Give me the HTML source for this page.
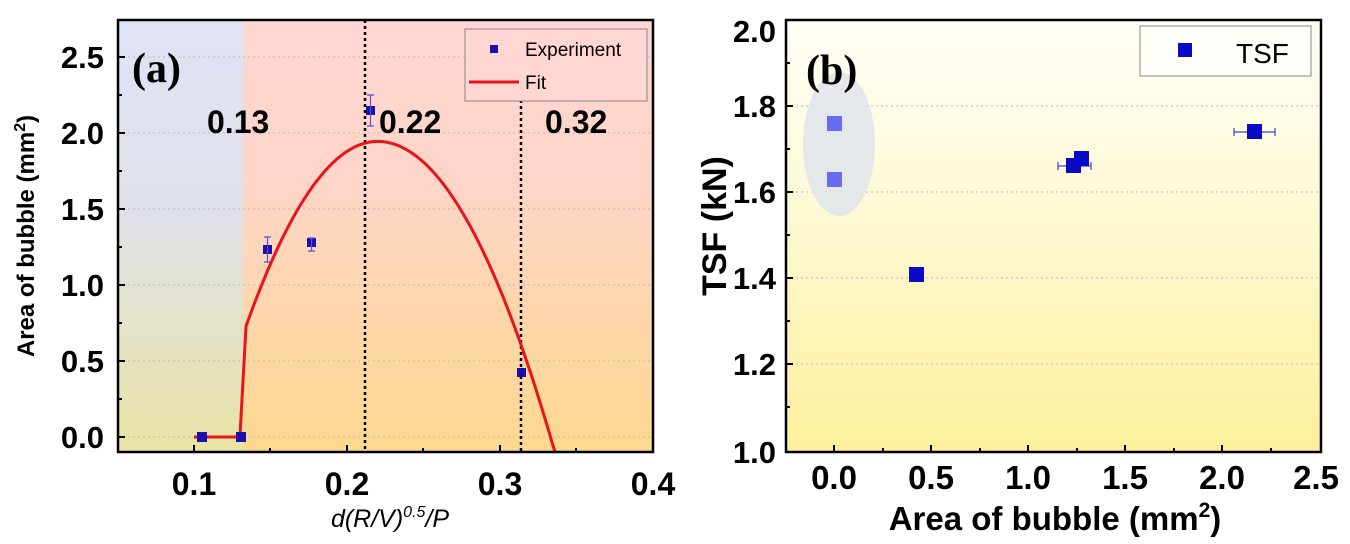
<!DOCTYPE html>
<html><head><meta charset="utf-8"><style>
html,body{margin:0;padding:0;background:#fff;}
svg{display:block;}
text{font-family:"Liberation Sans",Arial,sans-serif;}
.serif{font-family:"Liberation Serif","Times New Roman",serif;}
</style></head><body>
<svg width="1350" height="544" viewBox="0 0 1350 544" xmlns="http://www.w3.org/2000/svg">
<defs>
<linearGradient id="gBlue" x1="0" y1="0" x2="0" y2="1">
<stop offset="0" stop-color="#dfe3f5"/><stop offset="0.45" stop-color="#dfe1e8"/><stop offset="1" stop-color="#e9e3a4"/></linearGradient>
<linearGradient id="gRed" x1="0" y1="0" x2="0" y2="1">
<stop offset="0" stop-color="#ffd6d2"/><stop offset="0.4" stop-color="#fed5c6"/><stop offset="1" stop-color="#fdd88e"/></linearGradient>
<linearGradient id="gY" x1="0" y1="0" x2="0" y2="1">
<stop offset="0" stop-color="#fffef6"/><stop offset="0.4" stop-color="#fefad8"/><stop offset="1" stop-color="#fdef9c"/></linearGradient>
</defs>

<!-- Panel A -->
<rect x="118" y="20" width="125" height="432" fill="url(#gBlue)"/>
<rect x="243" y="20" width="410" height="432" fill="url(#gRed)"/>
<g stroke="#bbb" stroke-width="1" stroke-dasharray="2,3">
<line x1="118" y1="57" x2="653" y2="57"/><line x1="118" y1="133" x2="653" y2="133"/>
<line x1="118" y1="209" x2="653" y2="209"/><line x1="118" y1="285" x2="653" y2="285"/>
<line x1="118" y1="361" x2="653" y2="361"/><line x1="118" y1="437" x2="653" y2="437"/>
</g>
<g stroke="#000" stroke-width="2.5" stroke-dasharray="3,3">
<line x1="365" y1="20" x2="365" y2="452"/><line x1="521" y1="100" x2="521" y2="452"/>
</g>
<path id="fit" fill="none" stroke="#e8141a" stroke-width="3"/>
<g fill="#1a10b0">
<rect x="197" y="432" width="10" height="10"/><rect x="236" y="432" width="10" height="10"/>
<rect x="263" y="245" width="9" height="9"/><rect x="307" y="238" width="9" height="9"/>
<rect x="366" y="106" width="9" height="9"/><rect x="517" y="368" width="9" height="9"/>
</g>
<g stroke="#5a4ee0" stroke-width="1.2" fill="none">
<path d="M267.5 237V262M264 237h7M264 262h7"/>
<path d="M311.5 238V251M308 238h7M308 251h7"/>
<path d="M370.5 95V126M367 95h7M367 126h7"/>
</g>
<rect x="118" y="20" width="535" height="432" fill="none" stroke="#000" stroke-width="2.5"/>
<g stroke="#000" stroke-width="2">
<line x1="118" y1="57" x2="125" y2="57"/><line x1="118" y1="133" x2="125" y2="133"/><line x1="118" y1="209" x2="125" y2="209"/>
<line x1="118" y1="285" x2="125" y2="285"/><line x1="118" y1="361" x2="125" y2="361"/><line x1="118" y1="437" x2="125" y2="437"/>
<line x1="118" y1="95" x2="122" y2="95"/><line x1="118" y1="171" x2="122" y2="171"/><line x1="118" y1="247" x2="122" y2="247"/>
<line x1="118" y1="323" x2="122" y2="323"/><line x1="118" y1="399" x2="122" y2="399"/>
<line x1="194" y1="452" x2="194" y2="445"/><line x1="347" y1="452" x2="347" y2="445"/><line x1="500" y1="452" x2="500" y2="445"/>
<line x1="270" y1="452" x2="270" y2="448"/><line x1="423" y1="452" x2="423" y2="448"/><line x1="576" y1="452" x2="576" y2="448"/>
</g>
<g font-size="31" font-weight="bold" text-anchor="end">
<text x="104" y="68">2.5</text><text x="104" y="144">2.0</text><text x="104" y="220">1.5</text>
<text x="104" y="296">1.0</text><text x="104" y="372">0.5</text><text x="104" y="448">0.0</text>
</g>
<g font-size="32" font-weight="bold" text-anchor="middle">
<text x="194" y="495">0.1</text><text x="347" y="495">0.2</text><text x="500" y="495">0.3</text><text x="653" y="495">0.4</text>
</g>
<g font-size="32" font-weight="bold">
<text x="207" y="133">0.13</text><text x="379" y="133">0.22</text><text x="545" y="133">0.32</text>
</g>
<text x="132" y="82" class="serif" font-size="42" font-weight="bold">(a)</text>
<text x="390" y="527" font-size="25" font-style="italic" text-anchor="middle">d(R/V)<tspan font-size="16" dy="-10">0.5</tspan><tspan dy="10">/P</tspan></text>
<text transform="translate(34,236) rotate(-90)" font-size="24" font-weight="bold" text-anchor="middle">Area of bubble (mm<tspan font-size="16" dy="-9">2</tspan><tspan dy="9">)</tspan></text>
<rect x="465" y="29" width="182" height="72" fill="#ffd6d2" stroke="#888" stroke-width="1"/>
<rect x="490" y="45" width="8" height="8" fill="#1a10b0"/>
<line x1="469" y1="82" x2="519" y2="82" stroke="#e8141a" stroke-width="3"/>
<text x="525" y="56" font-size="19">Experiment</text>
<text x="525" y="89" font-size="19">Fit</text>

<!-- Panel B -->
<rect x="786" y="20" width="535" height="432" fill="url(#gY)"/>
<g stroke="#bbb" stroke-width="1" stroke-dasharray="2,3">
<line x1="786" y1="106" x2="1321" y2="106"/><line x1="786" y1="192" x2="1321" y2="192"/>
<line x1="786" y1="278" x2="1321" y2="278"/><line x1="786" y1="364" x2="1321" y2="364"/>
</g>
<ellipse cx="839" cy="144" rx="36" ry="72" fill="#dfe4ec" opacity="0.85"/>
<g fill="#6a6cf0">
<rect x="827" y="116" width="15" height="15"/><rect x="827" y="172" width="15" height="15"/>
</g>
<g stroke="#3a44d8" stroke-width="1.2" fill="none">
<path d="M1058 166H1091M1058 162v8M1091 162v8"/>
<path d="M1234 132H1275M1234 128v8M1275 128v8"/>
</g>
<g fill="#0a0ac8">
<rect x="909" y="267" width="15" height="15"/>
<rect x="1066" y="158" width="15" height="15"/><rect x="1074" y="151" width="15" height="15"/>
<rect x="1247" y="124" width="15" height="15"/>
</g>
<rect x="786" y="20" width="535" height="432" fill="none" stroke="#000" stroke-width="2.5"/>
<g stroke="#000" stroke-width="2">
<line x1="786" y1="106" x2="793" y2="106"/><line x1="786" y1="192" x2="793" y2="192"/><line x1="786" y1="278" x2="793" y2="278"/><line x1="786" y1="364" x2="793" y2="364"/>
<line x1="786" y1="63" x2="790" y2="63"/><line x1="786" y1="149" x2="790" y2="149"/><line x1="786" y1="235" x2="790" y2="235"/><line x1="786" y1="321" x2="790" y2="321"/><line x1="786" y1="407" x2="790" y2="407"/>
<line x1="834" y1="452" x2="834" y2="445"/><line x1="931" y1="452" x2="931" y2="445"/><line x1="1028" y1="452" x2="1028" y2="445"/><line x1="1125" y1="452" x2="1125" y2="445"/><line x1="1222" y1="452" x2="1222" y2="445"/>
<line x1="883" y1="452" x2="883" y2="448"/><line x1="980" y1="452" x2="980" y2="448"/><line x1="1077" y1="452" x2="1077" y2="448"/><line x1="1174" y1="452" x2="1174" y2="448"/><line x1="1271" y1="452" x2="1271" y2="448"/>
</g>
<g font-size="31" font-weight="bold" text-anchor="end">
<text x="776" y="42">2.0</text><text x="776" y="117">1.8</text><text x="776" y="203">1.6</text>
<text x="776" y="289">1.4</text><text x="776" y="375">1.2</text><text x="776" y="463">1.0</text>
</g>
<g font-size="33" font-weight="bold" text-anchor="middle">
<text x="834" y="489">0.0</text><text x="931" y="489">0.5</text><text x="1028" y="489">1.0</text>
<text x="1125" y="489">1.5</text><text x="1222" y="489">2.0</text><text x="1316" y="489">2.5</text>
</g>
<text x="806" y="84" class="serif" font-size="42" font-weight="bold">(b)</text>
<text transform="translate(726,226) rotate(-90)" font-size="34" font-weight="bold" text-anchor="middle">TSF (kN)</text>
<text x="1055" y="530" font-size="33" font-weight="bold" text-anchor="middle">Area of bubble (mm<tspan font-size="21" dy="-13">2</tspan><tspan dy="13">)</tspan></text>
<rect x="1140" y="26" width="171" height="50" fill="#fffef8" stroke="#888" stroke-width="1"/>
<rect x="1178" y="43" width="14" height="14" fill="#0a0ac8"/>
<text x="1236" y="63" font-size="28">TSF</text>
</svg>
<script>
(function(){
 function X(x){return 194+(x-0.1)*1530;}
 function Y(y){return 437-y*151.6;}
 var d="M"+X(0.1)+" "+Y(0)+"L"+X(0.13)+" "+Y(0)+"L"+X(0.134)+" "+Y(0.73);
 for(var x=0.136;x<=0.337;x+=0.002){
   var t=(x-0.134)/(0.22-0.134);
   var y;
   if(x<0.22){y=0.73+(1.95-0.73)*(1-Math.pow(1-t,2));}
   else{y=1.95-152.7*(x-0.22)*(x-0.22);}
   var py=Y(y); if(py>452){py=452;}
   d+="L"+X(x).toFixed(1)+" "+py.toFixed(1);
   if(py>=452)break;
 }
 document.getElementById('fit').setAttribute('d',d);
})();
</script>
</body></html>
